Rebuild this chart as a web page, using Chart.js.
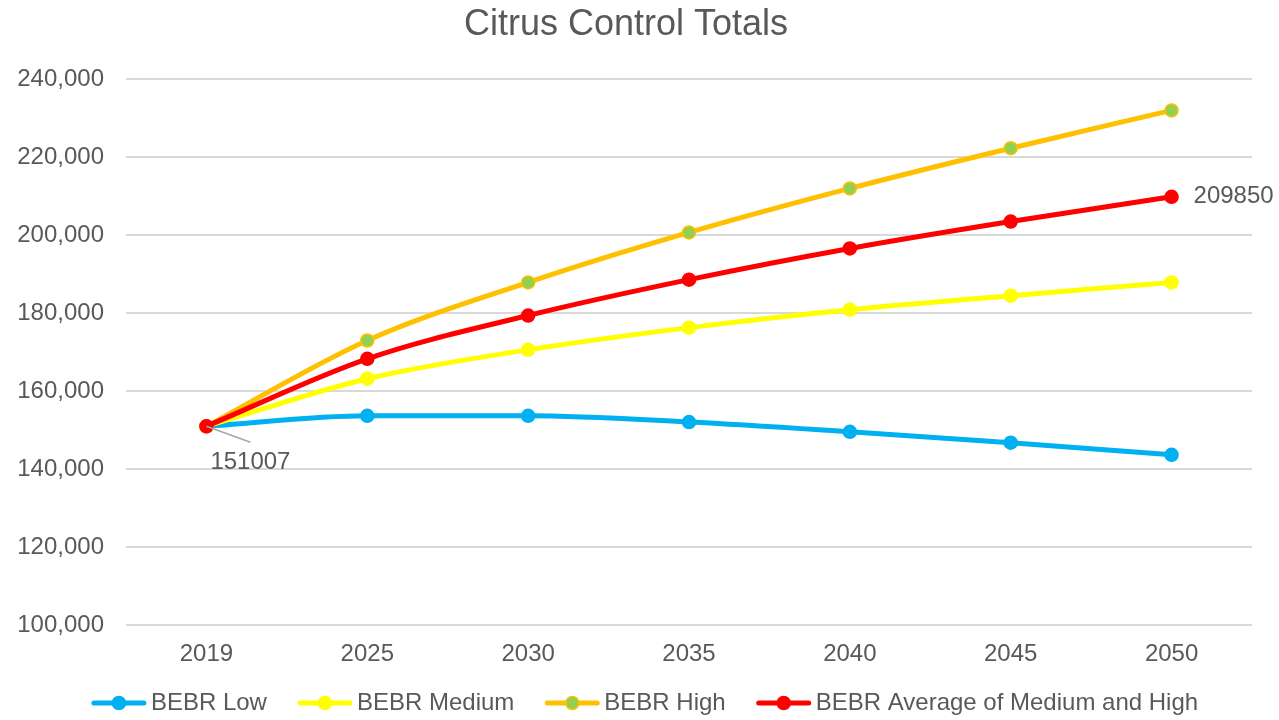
<!DOCTYPE html>
<html>
<head>
<meta charset="utf-8">
<script src="https://cdn.jsdelivr.net/npm/chart.js@4/dist/chart.umd.min.js"></script>
<style>
  html, body { margin: 0; padding: 0; background: #fff; }
  #wrap { width: 1279px; height: 720px; position: relative; }
</style>
</head>
<body>
<div id="wrap"><canvas id="myChart"></canvas></div>
<script>
const years = ['2019', '2025', '2030', '2035', '2040', '2045', '2050'];
const bebrLow = [151007, 153700, 153700, 152100, 149600, 146800, 143700];
const bebrMedium = [151007, 163200, 170600, 176300, 180900, 184500, 187900];
const bebrHigh = [151007, 173000, 187900, 200700, 212000, 222300, 232000];
const bebrAverage = [151007, 168300, 179400, 188600, 196600, 203500, 209850];
const yTicks = [100000, 120000, 140000, 160000, 180000, 200000, 220000, 240000];

const textColor = '#595959';
const font = 'Liberation Sans, Arial, sans-serif';

function series(label, data, line, fill, order) {
    return {
        label: label,
        data: data,
        order: order,
        borderColor: line,
        backgroundColor: fill,
        borderWidth: 5,
        cubicInterpolationMode: 'monotone',
        pointRadius: 6.5,
        pointHoverRadius: 6.5,
        pointBackgroundColor: fill,
        pointBorderColor: line,
        pointBorderWidth: 1.5,
    };
}

// legend drawn by hand: line with a dot, then the text
const legendPlugin = {
    id: 'lineLegend',
    afterDraw(chart) {
        const c = chart.ctx;
        const sets = chart.data.datasets;
        const iconW = 56, gap = 4, spacing = 30, y = 703;
        c.save();
        c.font = '24px ' + font;
        c.textBaseline = 'middle';
        c.textAlign = 'left';
        const widths = sets.map(d => iconW + gap + c.measureText(d.label).width);
        const total = widths.reduce((a, b) => a + b, 0) + spacing * (sets.length - 1);
        let x = (chart.width - total) / 2 + 5;
        sets.forEach((d, i) => {
            c.strokeStyle = d.borderColor;
            c.lineWidth = 5;
            c.lineCap = 'round';
            c.beginPath();
            c.moveTo(x + 3, y);
            c.lineTo(x + iconW - 3, y);
            c.stroke();
            c.beginPath();
            c.arc(x + iconW / 2, y, 6.5, 0, Math.PI * 2);
            c.fillStyle = d.pointBackgroundColor;
            c.fill();
            c.lineWidth = 1.5;
            c.strokeStyle = d.pointBorderColor;
            c.stroke();
            c.fillStyle = textColor;
            c.fillText(d.label, x + iconW + gap, y);
            x += widths[i] + spacing;
        });
        c.restore();
    }
};

const labelPlugin = {
    id: 'dataLabels',
    afterDatasetsDraw(chart) {
        const c = chart.ctx;
        c.save();
        c.font = '24px ' + font;
        c.fillStyle = textColor;
        c.textBaseline = 'middle';

        const first = chart.getDatasetMeta(0).data[0];
        c.strokeStyle = '#a6a6a6';
        c.lineWidth = 1.5;
        c.beginPath();
        c.moveTo(first.x, first.y);
        c.lineTo(first.x + 44, first.y + 16);
        c.stroke();
        c.textAlign = 'center';
        c.fillText(String(bebrLow[0]), first.x + 44, first.y + 36);

        const pts = chart.getDatasetMeta(3).data;
        const last = pts[pts.length - 1];
        c.textAlign = 'left';
        c.fillText(String(bebrAverage[bebrAverage.length - 1]), last.x + 22, last.y);
        c.restore();
    }
};

const ctx = document.getElementById('myChart');
const myChart = new Chart(ctx, {
    type: 'line',
    data: {
        labels: years,
        datasets: [
            series('BEBR Low', bebrLow, '#00B0F0', '#00B0F0', 4),
            series('BEBR Medium', bebrMedium, '#FFFF00', '#FFFF00', 3),
            series('BEBR High', bebrHigh, '#FFC000', '#92D050', 2),
            series('BEBR Average of Medium and High', bebrAverage, '#FF0000', '#FF0000', 1),
        ]
    },
    options: {
        responsive: true,
        maintainAspectRatio: false,
        animation: false,
        layout: {
            padding: { left: 0, right: 27, top: 0, bottom: 36 }
        },
        plugins: {
            legend: { display: false },
            title: {
                display: true,
                text: 'Citrus Control Totals',
                color: textColor,
                font: { family: font, size: 36, weight: 'normal' },
                padding: { top: 3, bottom: 33 }
            },
            tooltip: { enabled: false }
        },
        scales: {
            x: {
                offset: true,
                grid: { display: false, drawTicks: false },
                border: { display: false },
                ticks: {
                    color: textColor,
                    padding: 15,
                    font: { family: font, size: 24 }
                }
            },
            y: {
                min: yTicks[0],
                max: yTicks[yTicks.length - 1],
                afterBuildTicks: function(scale) {
                    scale.ticks = yTicks.map(v => ({ value: v }));
                },
                afterFit: function(scale) {
                    scale.width = 126;
                },
                grid: { color: '#d9d9d9', lineWidth: 2, drawTicks: false },
                border: { display: false },
                ticks: {
                    color: textColor,
                    padding: 22,
                    font: { family: font, size: 24 },
                    callback: function(value) {
                        return value.toLocaleString('en-US');
                    }
                }
            }
        }
    },
    plugins: [labelPlugin, legendPlugin]
});
</script>
</body>
</html>
